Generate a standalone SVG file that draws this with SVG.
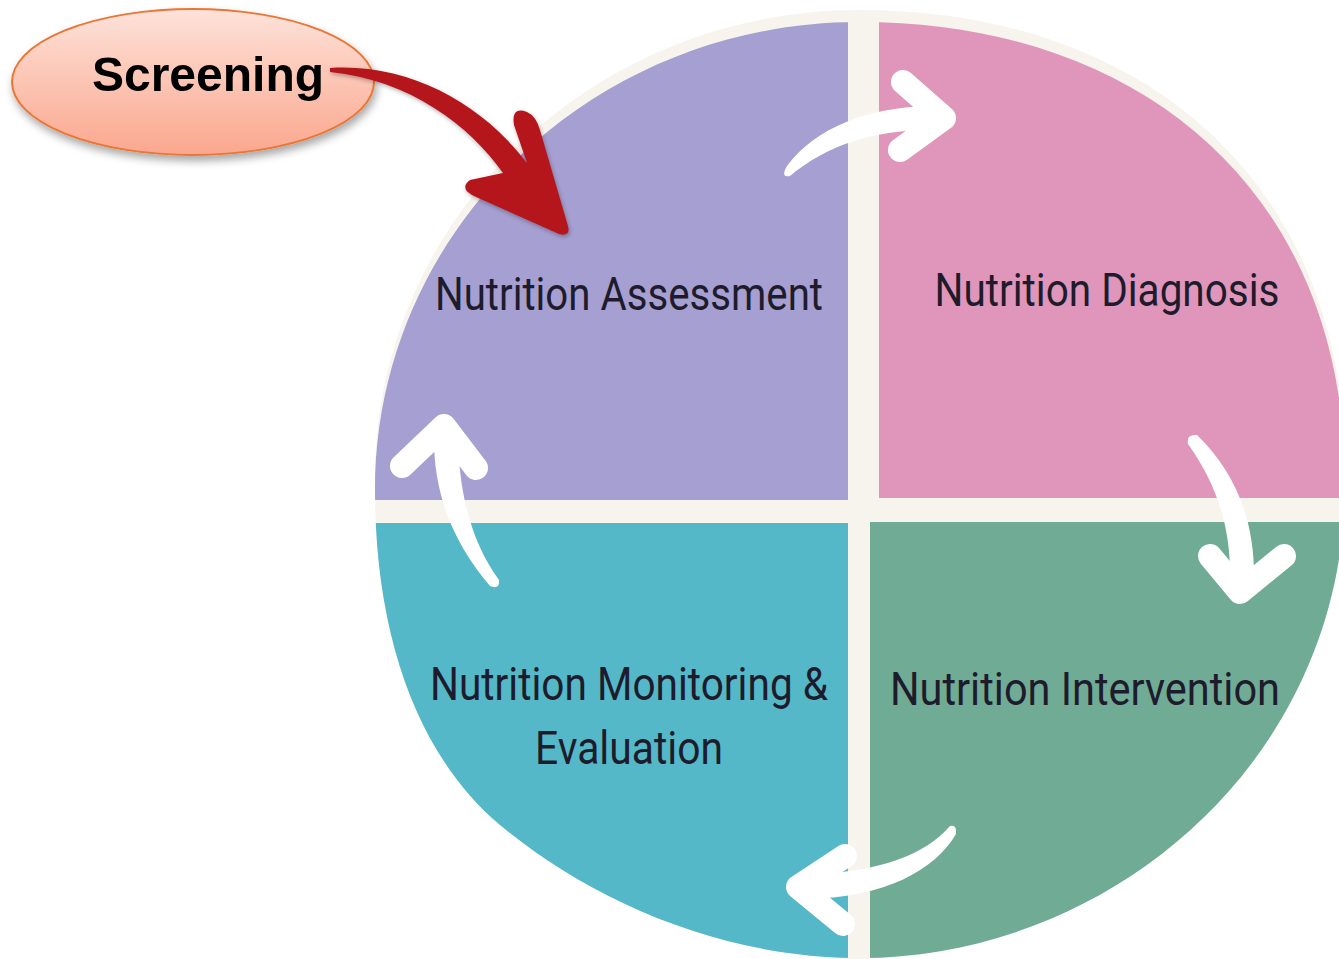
<svg xmlns="http://www.w3.org/2000/svg" width="1339" height="959" viewBox="0 0 1339 959">
  <defs>
    <style>
      .label { font-family: "Roboto", "Liberation Sans", sans-serif; font-size: 46px; fill: #1e1c2c; }
      .wa { fill: #ffffff; }
      .wh { fill: none; stroke: #ffffff; stroke-width: 24; stroke-linejoin: round; stroke-linecap: round; }
    </style>
    <path id="disc" d="M375,490 C375,231.5 591.7,22 859,22 C1150,22 1345,200 1345,480 C1347,760 1110,958 860,958 C720,958 590,900 500,825 C420,758 375,640 375,490 Z"/>
    <clipPath id="discClip"><use href="#disc"/></clipPath>
    <linearGradient id="screenFill" x1="0" y1="0" x2="0" y2="1">
      <stop offset="0" stop-color="#fde2d9"/>
      <stop offset="1" stop-color="#fba78e"/>
    </linearGradient>
    <filter id="softShadow" x="-20%" y="-20%" width="140%" height="150%">
      <feDropShadow dx="2" dy="5" stdDeviation="4" flood-color="#000000" flood-opacity="0.35"/>
    </filter>
    <filter id="arrowShadow" x="-20%" y="-20%" width="140%" height="140%">
      <feDropShadow dx="1" dy="2" stdDeviation="2" flood-color="#000000" flood-opacity="0.3"/>
    </filter>
  </defs>

  <rect width="1339" height="959" fill="#ffffff"/>

  <!-- cycle disc: pale backing plus four coloured quadrants -->
  <g id="disc-backing">
    <use href="#disc" transform="translate(0,-12)" fill="#f7f4ee"/>
    <use href="#disc" fill="#f7f4ee"/>
    <rect x="848" y="500" width="22" height="459" fill="#f7f4ee"/>
  </g>

  <g id="assessment">
    <rect x="300" y="0" width="548" height="500" fill="#a69fd2" clip-path="url(#discClip)"/>
    <text class="label" x="629" y="310" text-anchor="middle" textLength="388" lengthAdjust="spacingAndGlyphs">Nutrition Assessment</text>
  </g>

  <g id="diagnosis">
    <rect x="879" y="0" width="500" height="498" fill="#e096ba" clip-path="url(#discClip)"/>
    <text class="label" x="1107" y="306" text-anchor="middle" textLength="345" lengthAdjust="spacingAndGlyphs">Nutrition Diagnosis</text>
  </g>

  <g id="intervention">
    <rect x="870" y="522" width="500" height="460" fill="#70ab95" clip-path="url(#discClip)"/>
    <text class="label" x="1085" y="705" text-anchor="middle" textLength="390" lengthAdjust="spacingAndGlyphs">Nutrition Intervention</text>
  </g>

  <g id="monitoring">
    <rect x="300" y="523" width="548" height="460" fill="#54b8c8" clip-path="url(#discClip)"/>
    <text class="label" x="629" y="700" text-anchor="middle" textLength="398" lengthAdjust="spacingAndGlyphs">Nutrition Monitoring &amp;</text>
    <text class="label" x="629" y="764" text-anchor="middle" textLength="188" lengthAdjust="spacingAndGlyphs">Evaluation</text>
  </g>

  <g id="screening" filter="url(#softShadow)">
    <ellipse cx="193" cy="82" rx="181" ry="73" fill="url(#screenFill)" stroke="#ea7634" stroke-width="2"/>
    <text x="208" y="91" text-anchor="middle" font-family="'Liberation Sans', Arial, sans-serif" font-weight="bold" font-size="48" fill="#000000">Screening</text>
  </g>

  <g id="connectors">
    <!-- white cycle arrows -->
    <g id="arrow-assess-diag">
      <path class="wa" d="M787,166 C815,128 868,107 930,106 L930,130 C872,130 826,146 790,176 Q780,178 787,166 Z"/>
      <polyline class="wh" points="903,82 944,118 900,150"/>
    </g>
    <g id="arrow-diag-interv">
      <path class="wa" d="M1197,435 C1235,472 1256,520 1254,585 L1230,585 C1232,525 1215,482 1188,444 Q1186,434 1197,435 Z"/>
      <polyline class="wh" points="1210,556 1240,592 1284,556"/>
    </g>
    <g id="arrow-interv-monit">
      <path class="wa" d="M950,826 C925,855 880,872 805,875 L805,899 C885,898 935,870 956,834 Q957,824 950,826 Z"/>
      <polyline class="wh" points="845,856 798,887 843,924"/>
    </g>
    <g id="arrow-monit-assess">
      <path class="wa" d="M490,586 C455,545 432,495 434,430 L458,430 C458,490 470,540 499,580 Q500,590 490,586 Z"/>
      <polyline class="wh" points="402,466 444,426 476,468"/>
    </g>
    <!-- red entry arrow from screening -->
    <path id="arrow-screening" filter="url(#arrowShadow)" fill="#b5181f" d="M330,68 C410,63 482,104 527,163 L514,125 Q511,106 527,112 Q536,116 540,130 L568,226 Q571,237 559,234 L476,197 Q458,189 470,180 L503,173 C470,126 410,80 330,72 Z"/>
  </g>
</svg>
